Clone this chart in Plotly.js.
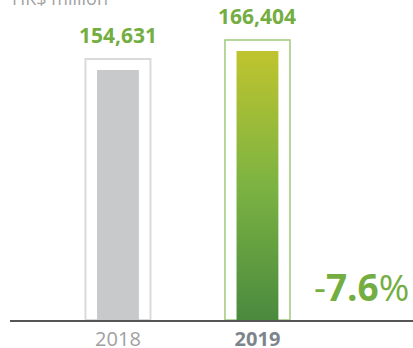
<!DOCTYPE html>
<html>
<head>
<meta charset="utf-8">
<script src="https://cdn.plot.ly/plotly-3.0.1.min.js"></script>
<style>html,body{margin:0;padding:0;background:#fff;}#chart{width:413px;height:348px;}</style>
</head>
<body>
<div id="chart"></div>
<script>
// ---- data ----
const years = ['2018', '2019'];
const values = [154631, 166404];
const valueLabels = ['154,631', '166,404'];
const changeText = '-7.6%';
const unitText = 'HK$ million';

// ---- style ----
const xPos = [0, 1];
const innerW = 0.30;
const frameW = 0.466;
const framePad = 6800;
const green = '#74ae42';

const frameVals = values.map(v => v + framePad);

const traces = [
  { type: 'bar', x: xPos, y: frameVals, width: frameW,
    marker: { color: 'rgba(0,0,0,0)', line: { color: ['#dadada', '#9fca7c'], width: [2, 1.5] } },
    hoverinfo: 'skip', showlegend: false },
  { type: 'bar', x: [xPos[0]], y: [values[0]], width: innerW,
    marker: { color: '#c8c9cb', line: { width: 0 } }, showlegend: false },
  { type: 'scatter', mode: 'lines',
    x: [xPos[1] - innerW / 2, xPos[1] + innerW / 2, xPos[1] + innerW / 2, xPos[1] - innerW / 2, xPos[1] - innerW / 2],
    y: [0, 0, values[1], values[1], 0],
    fill: 'toself', line: { width: 0, color: 'rgba(0,0,0,0)' },
    fillgradient: { type: 'vertical', colorscale: [[0, '#4a8a3e'], [0.5, '#7cb342'], [1, '#bfc42e']] },
    showlegend: false, hoverinfo: 'skip' }
];

const annotations = [
  ...years.map((y, i) => ({
    x: xPos[i], y: frameVals[i], xref: 'x', yref: 'y', text: '<b>' + valueLabels[i] + '</b>',
    showarrow: false, yanchor: 'bottom', yshift: 8,
    font: { family: 'Open Sans', size: 21, color: green }
  })),
  { x: 1, xref: 'paper', y: 0, yref: 'y', xanchor: 'right', yanchor: 'bottom', yshift: 6, xshift: -2,
    text: '-<b>' + changeText.slice(1, -1) + '</b>%', showarrow: false,
    font: { family: 'Open Sans', size: 37, color: green } },
  { x: 0, xref: 'paper', y: 1, yref: 'paper', xanchor: 'left', yanchor: 'bottom', yshift: -12,
    text: unitText, showarrow: false, font: { family: 'Open Sans', size: 18, color: '#a3a3a3' } }
];

const layout = {
  width: 413, height: 348,
  margin: { l: 10, r: 0, t: 0, b: 28 },
  paper_bgcolor: '#fff', plot_bgcolor: '#fff',
  barmode: 'overlay',
  xaxis: { range: [-0.774, 2.115], tickvals: xPos,
    ticktext: ['<span style="color:#a0a0a0">' + years[0] + '</span>', '<b><span style="color:#7d858c">' + years[1] + '</span></b>'],
    showgrid: false, zeroline: false, showline: true, linecolor: '#555', linewidth: 1.5,
    ticks: '', tickfont: { family: 'Open Sans', size: 20, color: '#a0a0a0' }, fixedrange: true },
  yaxis: { range: [0, 198000], visible: false, showgrid: false, zeroline: false, fixedrange: true },
  annotations: annotations,
  showlegend: false
};

Plotly.newPlot('chart', traces, layout, { displayModeBar: false, staticPlot: true });
</script>
</body>
</html>
